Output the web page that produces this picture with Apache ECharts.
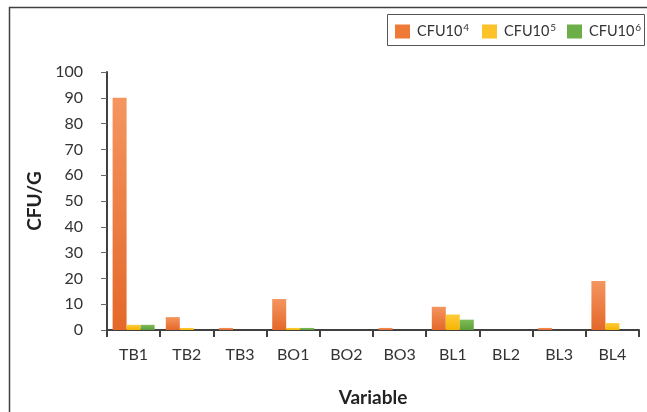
<!DOCTYPE html>
<html>
<head>
<meta charset="utf-8">
<script src="https://cdn.jsdelivr.net/npm/echarts@6/dist/echarts.min.js"></script>
<style>html,body{margin:0;padding:0;background:#fff}#c{width:647px;height:412px}</style>
</head>
<body>
<div id="c"></div>
<script>
const categories = ['TB1','TB2','TB3','BO1','BO2','BO3','BL1','BL2','BL3','BL4'];
const cfu4 = [90, 5, 0.8, 12, 0, 0.8, 9, 0, 0.8, 19];
const cfu5 = [2, 0.8, 0, 0.8, 0, 0, 6, 0, 0, 2.7];
const cfu6 = [2, 0, 0, 0.8, 0, 0, 4, 0, 0, 0];
const seriesNames = ['CFU10^4', 'CFU10^5', 'CFU10^6'];
const yTicks = [0,10,20,30,40,50,60,70,80,90,100];

const FONT = 'Lato, "Open Sans", sans-serif';
const grad = (top, bottom) => new echarts.graphic.LinearGradient(0,0,0,1,[{offset:0,color:top},{offset:1,color:bottom}]);
const colors = [grad('#F4955F','#E4682A'), grad('#FFCC3C','#F4B400'), grad('#7EBC57','#5E9E3A')];
const legendSolid = ['#EE7A35','#FDC12A','#6CAE48'];

const chart = echarts.init(document.getElementById('c'));
const mkLegend = (name, left, i) => ({
  data: [{name: name, itemStyle: {color: legendSolid[i]}}],
  left: left, top: 23, itemWidth: 15, itemHeight: 14, padding: 0,
  icon: 'rect',
  formatter: n => { const p = n.split('^'); return '{b|' + p[0] + '}{s|' + p[1] + '}'; },
  textStyle: {
    rich: {
      b: {fontFamily: FONT, fontSize: 14.5, color: '#333', padding: [0,0,0,2]},
      s: {fontFamily: FONT, fontSize: 10, color: '#333', verticalAlign: 'top', padding: [0,0,7,1]}
    }
  }
});
const option = {
  animation: false,
  textStyle: {fontFamily: FONT},
  graphic: [
    {type: 'rect', shape: {x: 9.5, y: 7.5, width: 700, height: 500}, style: {fill: 'none', stroke: '#404040', lineWidth: 1.5}, silent: true},
    {type: 'rect', shape: {x: 387.5, y: 14.5, width: 257, height: 31}, style: {fill: '#fff', stroke: '#555', lineWidth: 1}, silent: true, z: -1}
  ],
  legend: [mkLegend(seriesNames[0], 395, 0), mkLegend(seriesNames[1], 482, 1), mkLegend(seriesNames[2], 567, 2)],
  grid: {left: 107, right: 8, top: 72, bottom: 81, containLabel: false},
  xAxis: {
    type: 'category', data: categories,
    name: 'Variable', nameLocation: 'middle', nameGap: 58,
    nameTextStyle: {fontFamily: FONT, fontSize: 19, fontWeight: 'bold', color: '#222'},
    axisLine: {lineStyle: {color: '#404040', width: 2}},
    axisTick: {show: true, length: 7, lineStyle: {color: '#404040', width: 2}},
    axisLabel: {fontFamily: FONT, fontSize: 16, color: '#333', margin: 17}
  },
  yAxis: {
    type: 'value', min: 0, max: 100, interval: 10,
    name: 'CFU/G', nameLocation: 'middle', nameGap: 62, nameRotate: 90,
    nameTextStyle: {fontFamily: FONT, fontSize: 19, fontWeight: 'bold', color: '#222'},
    axisLine: {show: true, lineStyle: {color: '#404040', width: 2}},
    axisTick: {show: true, length: 6, lineStyle: {color: '#666', width: 1}},
    splitLine: {show: false},
    axisLabel: {fontFamily: FONT, fontSize: 16, color: '#333', margin: 24,
      formatter: v => yTicks.includes(v) ? String(v) : ''}
  },
  series: [cfu4, cfu5, cfu6].map((d, i) => ({
    name: seriesNames[i], type: 'bar', data: d, barWidth: 14, barGap: '0%',
    itemStyle: {color: colors[i]}
  }))
};
chart.setOption(option);
</script>
</body>
</html>
